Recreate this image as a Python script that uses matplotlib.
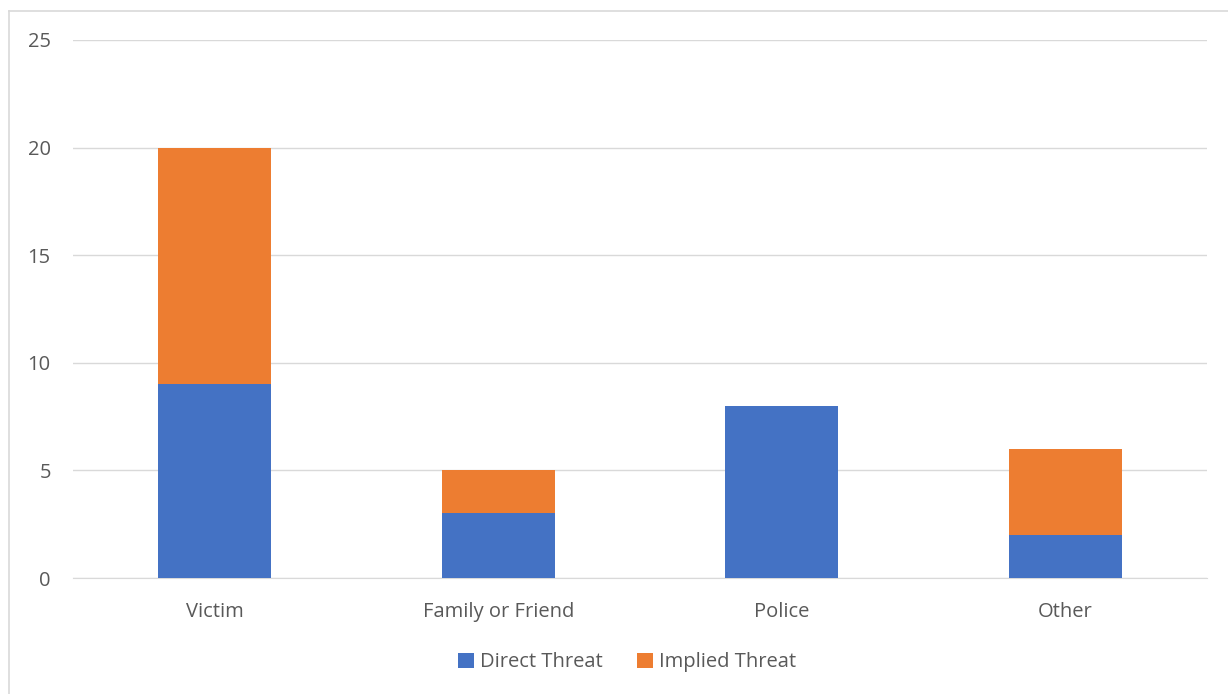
import matplotlib.pyplot as plt
from matplotlib.lines import Line2D

categories = ["Victim", "Family or Friend", "Police", "Other"]
direct = [9, 3, 8, 2]
implied = [11, 2, 0, 4]
yticks = [0, 5, 10, 15, 20, 25]

plt.rcParams["font.family"] = ["Open Sans", "DejaVu Sans"]

fig = plt.figure(figsize=(12.28, 6.94), dpi=100)
ax = fig.add_axes([73 / 1228, 1 - 578 / 694, 1134 / 1228, 538 / 694])

x = range(len(categories))
ax.bar(x, direct, width=0.4, color="#4472C4", label="Direct Threat", zorder=3)
ax.bar(x, implied, width=0.4, bottom=direct, color="#ED7D31", label="Implied Threat", zorder=3)

ax.set_xlim(-0.5, 3.5)
ax.set_ylim(0, 25)
ax.set_yticks(yticks)
ax.set_xticks(list(x))
ax.set_xticklabels(categories)
ax.grid(axis="y", color="#D9D9D9", linewidth=1, zorder=0)
for s in ["top", "right", "left"]:
    ax.spines[s].set_visible(False)
ax.spines["bottom"].set_color("#D9D9D9")
ax.tick_params(length=0, labelsize=14.5, colors="#595959")
ax.tick_params(axis="y", pad=16)
ax.tick_params(axis="x", pad=17)

ax.legend(loc="center", bbox_to_anchor=(0.4885, -0.157), ncol=2, frameon=False,
          fontsize=14.5, labelcolor="#595959", handlelength=0.8, handleheight=0.8,
          handletextpad=0.3, columnspacing=1.7)

# outer chart border (only left and top edges fall inside the picture)
fig.add_artist(Line2D([9 / 1228, 9 / 1228], [0, 1 - 11 / 694], transform=fig.transFigure,
                      color="#D9D9D9", linewidth=1.2))
fig.add_artist(Line2D([9 / 1228, 1], [1 - 11 / 694, 1 - 11 / 694], transform=fig.transFigure,
                      color="#D9D9D9", linewidth=1.2))

fig.savefig("out.png", dpi=100)
